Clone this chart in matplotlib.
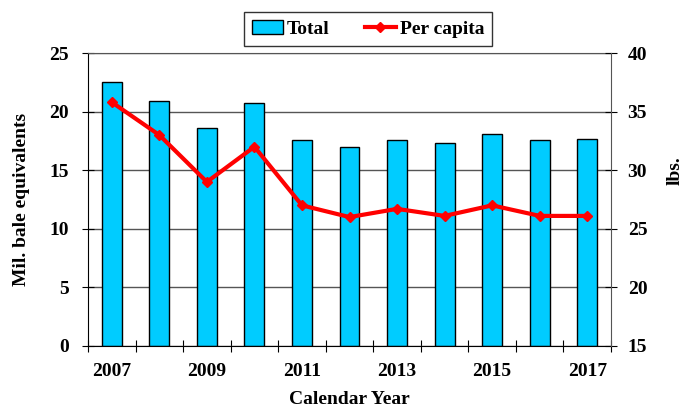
import matplotlib
matplotlib.use("Agg")
import matplotlib.pyplot as plt
import numpy as np

# === Datos ===
years = [2007, 2008, 2009, 2010, 2011, 2012, 2013, 2014, 2015, 2016, 2017]
total = [22.5, 20.9, 18.6, 20.7, 17.6, 17.0, 17.6, 17.3, 18.1, 17.6, 17.7]
per_capita = [35.8, 33.0, 29.0, 32.0, 27.0, 26.0, 26.7, 26.1, 27.0, 26.1, 26.1]
year_labels = ["2007", "2009", "2011", "2013", "2015", "2017"]

plt.rcParams['font.family'] = ['Liberation Serif', 'DejaVu Serif']
plt.rcParams['font.weight'] = 'bold'
FS = 14

fig = plt.figure(figsize=(6.83, 4.07), dpi=100)
ax = fig.add_axes([88 / 683, 1 - 346 / 407, (611 - 88) / 683, (346 - 53) / 407])

x = np.array(years)
bars = ax.bar(x, total, width=0.42, color='#00CCFF', edgecolor='black', lw=1, zorder=2, label='Total')
ax.set_xlim(2006.5, 2017.5)
ax.set_ylim(0, 25)
ax.set_yticks(range(0, 26, 5))
ax.yaxis.grid(True, color='#555555', lw=1, zorder=0)
ax.set_axisbelow(True)

# ticks en los bordes de categoria, etiquetas cada dos años
ax.set_xticks(np.arange(2006.5, 2018, 1))
ax.set_xticklabels([])
ax.set_xticks([int(y) for y in year_labels], minor=True)
ax.set_xticklabels(year_labels, minor=True, fontsize=FS, fontweight='bold')
ax.tick_params(axis='x', which='minor', length=0, pad=12)
ax.tick_params(axis='x', which='major', direction='inout', length=8)
ax.tick_params(axis='y', direction='inout', length=8, labelsize=FS, pad=10)

ax.spines['top'].set_color('#555555')
ax.spines['right'].set_visible(False)
ax.set_xlabel("Calendar Year", fontsize=FS, fontweight='bold', labelpad=8)
ax.set_ylabel("Mil. bale equivalents", fontsize=FS, fontweight='bold')
ax.yaxis.set_label_coords(-0.111, 0.5)

ax2 = ax.twinx()
line, = ax2.plot(x, per_capita, color='red', lw=3, marker='D', ms=5, label='Per capita', zorder=3)
ax2.set_ylim(15, 40)
ax2.set_yticks(range(15, 41, 5))
ax2.tick_params(axis='y', direction='inout', length=8, labelsize=FS, pad=8)
for s in ['top', 'left', 'bottom']:
    ax2.spines[s].set_visible(False)
ax2.spines['right'].set_color('#555555')
ax2.set_ylabel("lbs.", fontsize=FS, fontweight='bold')
ax2.yaxis.set_label_coords(1.107, 0.6)

leg = fig.legend(handles=[bars, line], labels=['Total', 'Per capita'], loc='center',
                 bbox_to_anchor=(368 / 683, 1 - 29 / 407), ncol=2, frameon=True, fancybox=False,
                 edgecolor='black', fontsize=FS, handlelength=1.6, columnspacing=1.8,
                 handletextpad=0.2, borderpad=0.4)
leg.get_frame().set_linewidth(1)

fig.savefig("out.png", dpi=100)
